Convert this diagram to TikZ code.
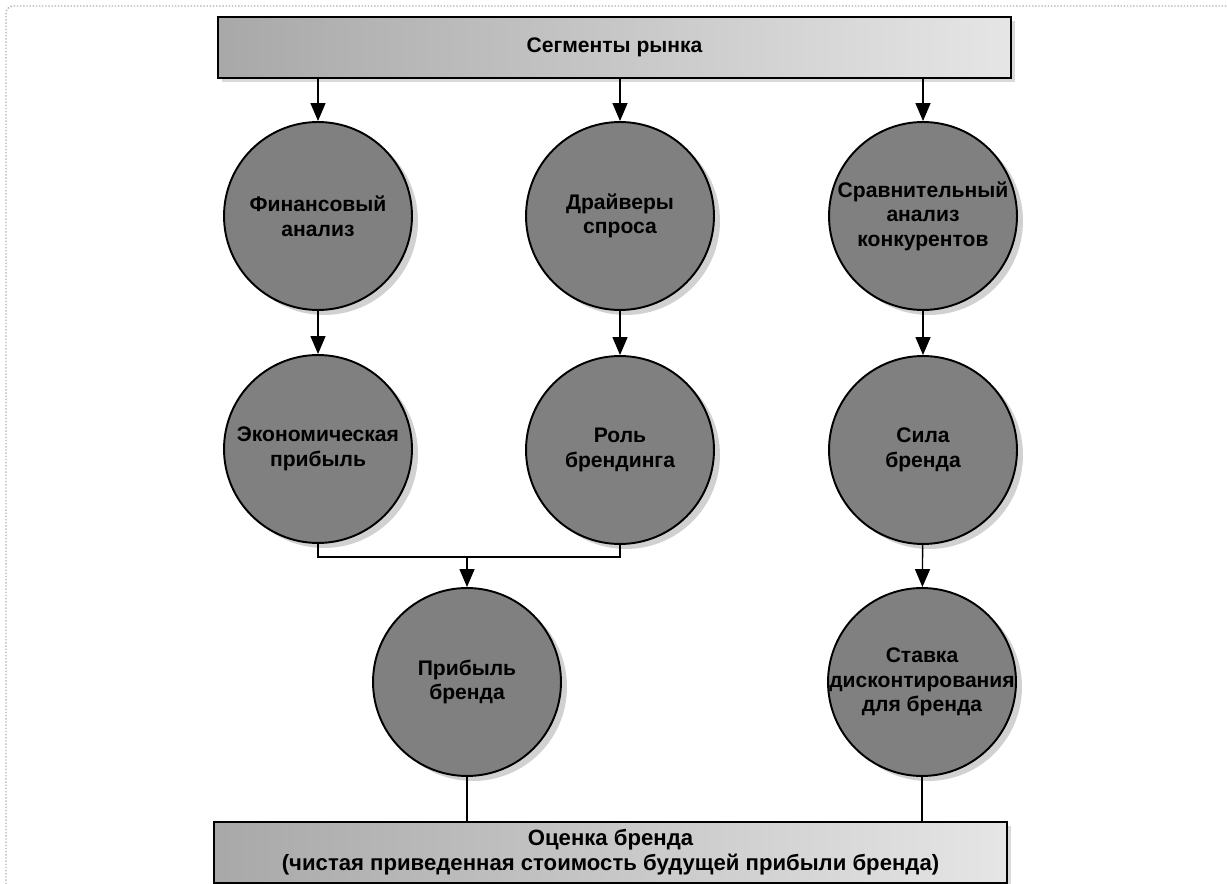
\documentclass[tikz,border=0pt]{standalone}
\usepackage{fontspec}
\setmainfont{Liberation Sans}
\usetikzlibrary{arrows.meta,shadows}
\begin{document}
\begin{tikzpicture}[x=0.02cm,y=-0.02cm,
  circ/.style={circle, draw=black, line width=1.1pt, fill=black!50,
    minimum size=3.76cm, inner sep=0pt,
    drop shadow={shadow xshift=0.12cm, shadow yshift=-0.1cm, fill=black!18, opacity=1}},
  bar/.style={rectangle, draw=black, line width=1.1pt,
    left color=black!34, right color=black!10,
    minimum width=15.88cm, minimum height=1.22cm, inner sep=0pt,
    drop shadow={shadow xshift=0.08cm, shadow yshift=-0.08cm, fill=black!15, opacity=1}},
  lbl/.style={font=\bfseries\fontsize{12}{14}\selectfont, align=center, inner sep=0pt, text=black},
  biglbl/.style={lbl, font=\bfseries\fontsize{12.6}{14.4}\selectfont},
  conn/.style={draw=black, line width=0.8pt},
  arr/.style={conn, -{Triangle[length=0.36cm, width=0.3cm]}},
  frame/.style={draw=black!30, line width=0.8pt, densely dotted, rounded corners=0.15cm}
]
% page and faint outer frame
\fill[white] (0,0) rectangle (1227,884);
\useasboundingbox (0,0) rectangle (1227,884);
\draw[frame] (6,884) -- (6,6) -- (1227,6);

% top and bottom bars
\node[bar] (seg) at (614.5,47.5) {};
\node[lbl] (seg-t) at (seg) {Сегменты рынка};
\node[bar] (val) at (610.5,852.5) {};
\node[biglbl] (val-t) at (val) {Оценка бренда\\(чистая приведенная стоимость будущей прибыли бренда)};

% first row of circles
\node[circ] (fin) at (318,216) {};
\node[lbl] (fin-t) at (fin) {Финансовый\\анализ};
\node[circ] (drv) at (620,216) {};
\node[lbl] (drv-t) at (drv) {Драйверы\\спроса};
\node[circ] (cmp) at (923,216) {};
\node[lbl] (cmp-t) at (cmp) {Сравнительный\\анализ\\конкурентов};

% second row
\node[circ] (eco) at (318,449) {};
\node[lbl] (eco-t) at (eco) {Экономическая\\прибыль};
\node[circ] (rol) at (620,450) {};
\node[lbl] (rol-t) at (rol) {Роль\\брендинга};
\node[circ] (str) at (923,450) {};
\node[lbl] (str-t) at (str) {Сила\\бренда};

% third row
\node[circ] (prf) at (467,682) {};
\node[lbl] (prf-t) at (prf) {Прибыль\\бренда};
\node[circ] (dsc) at (922,682) {};
\node[lbl] (dsc-t) at (dsc) {Ставка\\дисконтирования\\для бренда};

% connectors
\draw[arr] (seg.south -| fin.north) -- (fin.north);
\draw[arr] (seg.south -| drv.north) -- (drv.north);
\draw[arr] (seg.south -| cmp.north) -- (cmp.north);
\draw[arr] (fin) -- (eco);
\draw[arr] (drv) -- (rol);
\draw[arr] (cmp) -- (str);
\draw[arr] (str) -- (dsc);
\coordinate (join) at (467,557);
\draw[conn] (eco.south) -- (eco.south |- join) -- (rol.south |- join) -- (rol.south);
\draw[arr] (join) -- (prf.north);
\draw[conn] (prf.south) -- (prf.south |- val.north);
\draw[conn] (dsc.south) -- (dsc.south |- val.north);
\end{tikzpicture}
\end{document}
